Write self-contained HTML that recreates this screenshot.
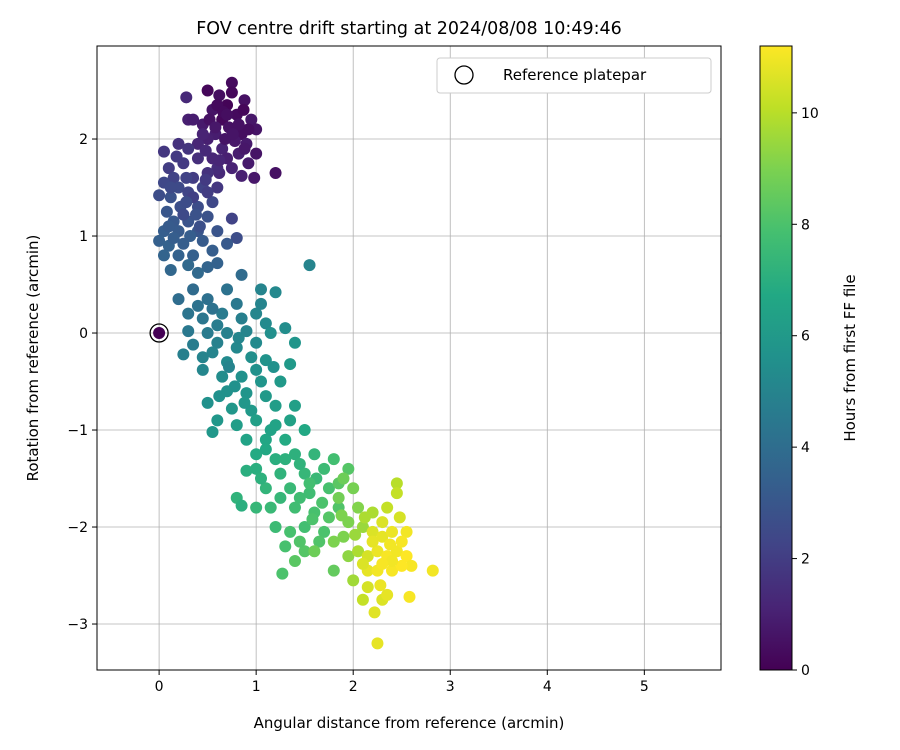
<!DOCTYPE html>
<html><head><meta charset="utf-8"><style>
html,body{margin:0;padding:0;background:#fff;}
svg{display:block;font-family:"DejaVu Sans","Liberation Sans",sans-serif;}
</style></head><body>
<svg id="chart" width="900" height="750" xmlns="http://www.w3.org/2000/svg"></svg>
<script>
const pts = [
[0.75,2.58,0.3],[0.5,2.5,0.2],[0.62,2.45,0.4],[0.88,2.4,0.5],[0.7,2.35,0.1],[0.55,2.3,0.6],[0.8,2.25,0.3],[0.95,2.2,0.7],[0.65,2.2,0.2],[0.45,2.15,0.8],[0.72,2.12,0.5],[1.0,2.1,0.6],[0.58,2.05,0.9],[0.85,2.05,0.4],[0.5,2.0,1.0],[0.78,1.98,0.7],[0.9,1.95,0.8],[0.65,1.9,1.1],[0.4,1.95,1.2],[0.82,1.85,0.9],[1.0,1.85,0.6],[0.7,1.8,1.0],[0.55,1.8,1.2],[0.92,1.75,0.8],[0.75,1.7,1.1],[0.62,1.65,1.3],[0.98,1.6,0.7],[1.2,1.65,0.5],[0.85,1.62,1.0],[0.3,2.2,1.0],[0.35,2.2,0.9],[0.28,2.43,1.3],[0.6,2.35,0.3],[0.52,2.2,0.5],[0.68,2.0,0.6],[0.87,2.3,0.2],[0.92,2.1,0.4],[0.45,2.05,1.1],[0.75,2.48,0.2],[0.6,1.7,1.4],
[0.66,2.28,0.3],[0.82,2.15,0.5],[0.58,2.12,0.7],[0.76,2.05,0.6],[0.48,1.88,1.3],[0.62,1.78,1.2],[0.88,1.9,0.7],[0.7,2.25,0.4],
[0.05,1.87,1.8],[0.2,1.95,1.6],[0.3,1.9,1.7],[0.1,1.7,2.0],[0.25,1.75,1.9],[0.4,1.8,1.5],[0.15,1.6,2.2],[0.35,1.6,2.0],[0.5,1.65,1.6],[0.05,1.55,2.4],[0.2,1.5,2.5],[0.45,1.5,2.2],[0.0,1.42,2.6],[0.12,1.4,2.8],[0.3,1.45,2.3],[0.6,1.5,1.8],[0.55,1.35,2.4],[0.08,1.25,3.0],[0.22,1.3,2.7],[0.4,1.3,2.6],[0.15,1.15,3.1],[0.3,1.15,2.9],[0.5,1.2,2.8],[0.75,1.18,2.2],[0.05,1.05,3.3],[0.2,1.05,3.2],[0.4,1.05,3.0],[0.6,1.05,2.9],[0.0,0.95,3.4],[0.1,0.9,3.5],[0.25,0.92,3.3],[0.45,0.95,3.2],[0.8,0.98,2.6],[0.05,0.8,3.6],[0.2,0.8,3.5],[0.35,0.8,3.4],[0.55,0.85,3.3],[0.12,0.65,3.7],[0.3,0.7,3.8],[0.5,0.68,3.6],[0.6,0.72,3.5],[0.7,0.92,3.1],[0.85,0.6,3.9],[0.25,1.22,2.5],[0.35,1.4,2.1],[0.5,1.45,2.0],[0.42,1.1,2.7],
[0.18,1.82,1.9],[0.12,1.5,2.5],[0.28,1.6,2.2],[0.38,1.22,2.8],[0.1,1.1,3.2],[0.32,1.0,3.3],[0.15,0.98,3.3],[0.4,0.62,3.8],[0.28,1.35,2.6],[0.48,1.58,1.9],
[0.2,0.35,4.0],[0.35,0.45,3.9],[0.5,0.35,4.1],[0.7,0.45,4.2],[0.8,0.3,4.5],[1.05,0.45,5.0],[1.2,0.42,5.2],[1.55,0.7,5.0],[0.3,0.2,4.3],[0.45,0.15,4.4],[0.65,0.2,4.6],[0.85,0.15,4.8],[1.0,0.2,5.1],[1.1,0.1,5.3],[0.3,0.02,4.5],[0.5,0.0,4.6],[0.7,0.0,4.9],[0.9,0.02,5.0],[1.15,0.0,5.5],[1.3,0.05,5.4],[0.35,-0.12,4.7],[0.6,-0.1,4.9],[0.8,-0.15,5.2],[1.0,-0.1,5.3],[1.4,-0.1,5.8],[0.25,-0.22,4.8],[0.45,-0.25,5.0],[0.7,-0.3,5.3],[0.95,-0.25,5.5],[1.1,-0.28,5.7],[1.35,-0.32,6.0],[0.45,-0.38,5.1],[0.65,-0.45,5.4],[0.85,-0.45,5.6],[1.05,-0.5,5.8],[1.25,-0.5,6.0],[0.7,-0.6,5.6],[0.9,-0.62,5.8],[1.1,-0.65,6.0],[0.5,-0.72,5.6],[0.75,-0.78,5.9],[0.95,-0.8,6.0],[1.2,-0.75,6.2],[1.4,-0.75,6.3],[0.6,-0.9,5.9],[0.8,-0.95,6.2],[0.55,-1.02,5.9],[0.72,-0.35,5.0],[0.55,0.25,4.2],[1.18,-0.35,5.6],
[0.4,0.28,4.2],[0.6,0.08,4.7],[0.82,-0.05,5.1],[0.55,-0.2,5.0],[0.78,-0.55,5.6],[1.0,-0.38,5.6],[0.88,-0.72,5.9],[0.62,-0.65,5.6],[1.05,0.3,5.0],
[1.0,-0.9,6.3],[1.2,-0.95,6.5],[1.35,-0.9,6.4],[0.9,-1.1,6.5],[1.1,-1.1,6.6],[1.3,-1.1,6.8],[1.5,-1.0,6.7],[1.0,-1.25,6.8],[1.2,-1.3,7.0],[1.4,-1.25,7.1],[1.6,-1.25,7.3],[1.8,-1.3,7.8],[1.0,-1.4,7.0],[1.25,-1.45,7.2],[1.5,-1.45,7.4],[1.7,-1.4,7.6],[1.95,-1.4,8.2],[1.1,-1.6,7.3],[1.35,-1.6,7.5],[1.55,-1.65,7.7],[1.75,-1.6,7.9],[1.15,-1.8,7.5],[1.4,-1.8,7.7],[1.6,-1.85,7.9],[1.85,-1.8,8.1],[0.8,-1.7,7.2],[0.85,-1.78,7.0],[1.0,-1.8,7.4],[1.2,-2.0,7.6],[1.5,-2.0,7.8],[1.7,-2.05,8.0],[1.3,-2.2,7.9],[1.5,-2.25,8.2],[1.4,-2.35,8.3],[1.27,-2.48,8.0],[1.8,-2.45,8.5],[1.65,-2.15,8.1],[1.45,-1.35,7.2],[1.1,-1.2,6.7],[0.9,-1.42,7.0],[1.62,-1.5,7.5],
[1.15,-1.0,6.5],[1.3,-1.3,7.1],[1.55,-1.55,7.8],[1.68,-1.75,8.0],[1.45,-1.7,7.7],[1.25,-1.7,7.4],[1.58,-1.92,8.0],[1.35,-2.05,7.9],[1.85,-1.55,8.3],[1.05,-1.5,7.1],[1.75,-1.9,8.2],[1.45,-2.15,8.1],
[1.9,-1.5,8.7],[2.0,-1.6,8.9],[2.05,-1.8,9.1],[1.85,-1.7,8.8],[1.95,-1.95,9.0],[2.1,-2.0,9.5],[2.2,-1.85,9.8],[2.35,-1.8,10.2],[2.45,-1.55,10.0],[2.48,-1.9,10.5],[2.2,-2.05,10.6],[2.3,-2.1,10.8],[2.4,-2.05,10.9],[2.55,-2.05,11.0],[1.8,-2.15,9.0],[1.95,-2.3,9.3],[2.05,-2.25,9.8],[2.15,-2.3,10.5],[2.25,-2.25,10.9],[2.35,-2.3,11.1],[2.45,-2.25,11.0],[2.55,-2.3,11.2],[2.6,-2.4,11.1],[2.0,-2.55,9.6],[2.15,-2.45,10.8],[2.25,-2.45,11.0],[2.4,-2.45,11.1],[2.5,-2.4,11.2],[2.82,-2.45,11.0],[2.1,-2.75,10.2],[2.3,-2.75,10.6],[2.35,-2.7,10.8],[2.58,-2.72,11.1],[2.22,-2.88,10.7],[2.25,-3.2,10.8],[1.6,-2.25,8.7],[1.9,-2.1,9.0],[2.28,-2.6,10.9],[2.15,-2.62,10.5],[2.4,-2.35,11.0],
[2.12,-1.9,9.8],[2.3,-1.95,10.6],[2.2,-2.15,10.8],[2.38,-2.18,11.0],[2.5,-2.15,11.1],[2.1,-2.38,10.6],[2.3,-2.38,11.1],[2.45,-1.65,10.2],[2.02,-2.08,9.5],[1.88,-1.88,9.0],
[0.0,0.0,0.0]
];
const xTicks = [0,1,2,3,4,5];
const yTicks = [-3,-2,-1,0,1,2];
const cTicks = [0,2,4,6,8,10];
const xDomain = [-0.64, 5.79], yDomain = [-3.474, 2.959], tMax = 11.2;

const L=97,R=721,T=46,B=670;
const sx = v => L + (v - xDomain[0]) / (xDomain[1]-xDomain[0]) * (R-L);
const sy = v => B - (v - yDomain[0]) / (yDomain[1]-yDomain[0]) * (B-T);
const CB={x:760,w:32};
const sc = v => B - v / tMax * (B-T);
const vir=["#440154","#482475","#414487","#355f8d","#2a788e","#21918c","#22a884","#44bf70","#7ad151","#bddf26","#fde725"];
function hex(h){return [1,3,5].map(i=>parseInt(h.substr(i,2),16));}
function cmap(f){f=Math.max(0,Math.min(1,f));const p=f*10,i=Math.min(9,Math.floor(p)),r=p-i;const a=hex(vir[i]),b=hex(vir[i+1]);return "rgb("+a.map((v,k)=>Math.round(v+(b[k]-v)*r)).join(",")+")";}
const svg=document.getElementById('chart');const NS="http://www.w3.org/2000/svg";
function mk(tag,attrs,parent,text){const e=document.createElementNS(NS,tag);for(const k in attrs)e.setAttribute(k,attrs[k]);if(text!==undefined)e.textContent=text;(parent||svg).appendChild(e);return e;}
let g;
g=mk('g',{});


xTicks.forEach(v=>mk('line',{x1:sx(v),x2:sx(v),y1:T,y2:B,stroke:"#b0b0b0","stroke-width":0.8},g));
yTicks.forEach(v=>mk('line',{x1:L,x2:R,y1:sy(v),y2:sy(v),stroke:"#b0b0b0","stroke-width":0.8},g));
g=mk('g',{});


pts.forEach(p=>{const c=mk('circle',{cx:sx(p[0]),cy:sy(p[1]),r:6,fill:cmap(p[2]/tMax)},g);

});
let ref=mk('circle',{cx:sx(0),cy:sy(0),r:9,fill:"none",stroke:"#000","stroke-width":1.3});


let fr=mk('rect',{x:L,y:T,width:R-L,height:B-T,fill:"none",stroke:"#000","stroke-width":1});


g=mk('g',{"font-size":"14","fill":"#000"});


xTicks.forEach(v=>{mk('line',{x1:sx(v),x2:sx(v),y1:B,y2:B+5,stroke:"#000"},g);mk('text',{x:sx(v),y:B+21,"text-anchor":"middle"},g,String(v));});
g=mk('g',{"font-size":"14"});


yTicks.forEach(v=>{mk('line',{x1:L-5,x2:L,y1:sy(v),y2:sy(v),stroke:"#000"},g);mk('text',{x:L-9,y:sy(v)+5,"text-anchor":"end"},g,v<0?"\u2212"+(-v):String(v));});
let t;
t=mk('text',{x:409,y:728,"text-anchor":"middle","font-size":"15"},svg,"Angular distance from reference (arcmin)");

t=mk('text',{x:38,y:358,"text-anchor":"middle","font-size":"15",transform:"rotate(-90 38 358)"},svg,"Rotation from reference (arcmin)");

t=mk('text',{x:409,y:34,"text-anchor":"middle","font-size":"17.5"},svg,"FOV centre drift starting at 2024/08/08 10:49:46");

g=mk('g',{});


mk('rect',{x:437,y:58,width:274,height:35,rx:3,fill:"#fff",stroke:"#ccc"},g);
mk('circle',{cx:464,cy:75,r:9,fill:"none",stroke:"#000","stroke-width":1.3},g);
mk('text',{x:503,y:80,"font-size":"15"},g,"Reference platepar");
g=mk('g',{});


const defs=mk('defs',{},g);const lg=mk('linearGradient',{id:"vg",x1:0,y1:1,x2:0,y2:0},defs);
vir.forEach((c,i)=>mk('stop',{offset:(i*10)+"%","stop-color":c},lg));
mk('rect',{x:CB.x,y:T,width:CB.w,height:B-T,fill:"url(#vg)",stroke:"#000","stroke-width":1},g);
cTicks.forEach(v=>{mk('line',{x1:CB.x+CB.w,x2:CB.x+CB.w+5,y1:sc(v),y2:sc(v),stroke:"#000"},g);mk('text',{x:CB.x+CB.w+9,y:sc(v)+5,"font-size":"14"},g,String(v));});
t=mk('text',{x:855,y:358,"text-anchor":"middle","font-size":"15",transform:"rotate(-90 855 358)"},g,"Hours from first FF file");

</script>
</body></html>
